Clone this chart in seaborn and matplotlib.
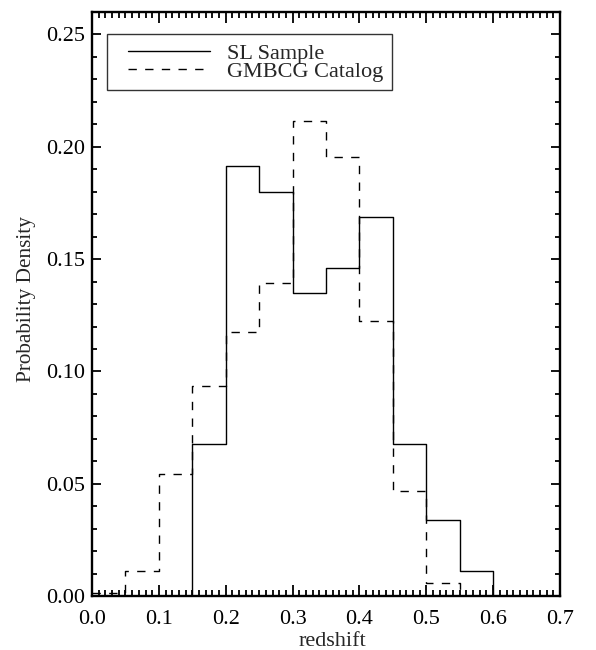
import numpy as np
import pandas as pd
import seaborn as sns
import matplotlib.pyplot as plt
from matplotlib.ticker import MultipleLocator
from matplotlib.lines import Line2D
from matplotlib.legend_handler import HandlerLine2D

# Histogram bins (redshift) and normalised heights
bin_edges = [0.00, 0.05, 0.10, 0.15, 0.20, 0.25, 0.30, 0.35, 0.40, 0.45, 0.50, 0.55, 0.60, 0.65]
sl_density = [0.0, 0.0, 0.0, 0.0676, 0.1913, 0.1800, 0.1349, 0.1462, 0.1687, 0.0676, 0.0338, 0.0113, 0.0]
gmbcg_density = [0.0012, 0.0110, 0.0544, 0.0933, 0.1177, 0.1395, 0.2113, 0.1953, 0.1226, 0.0467, 0.0060, 0.0, 0.0]
series_labels = ["SL Sample", "GMBCG Catalog"]

centers = [(a + b) / 2 for a, b in zip(bin_edges[:-1], bin_edges[1:])]
df = pd.DataFrame({
    "redshift": centers * 2,
    "density": sl_density + gmbcg_density,
    "sample": [series_labels[0]] * len(centers) + [series_labels[1]] * len(centers),
})

sns.set_theme(style="ticks")
plt.rcParams['font.family'] = ['Liberation Serif', 'DejaVu Serif']

fs = 16
fig = plt.figure(figsize=(5.96, 6.5), dpi=100)
ax = fig.add_axes([0.1544, 0.083, 0.7852, 0.8985])

styles = {series_labels[0]: "-", series_labels[1]: (0, (6, 6))}
for name in series_labels:
    sub = df[df["sample"] == name]
    sns.histplot(data=sub, x="redshift", weights="density", bins=bin_edges,
                 element="step", fill=False, stat="count", color="black",
                 linewidth=1.0, linestyle=styles[name], ax=ax)

# legend
handles = [Line2D([], [], color="black", lw=1.0, linestyle=styles[n]) for n in series_labels]
leg = ax.legend(handles=handles, labels=series_labels, loc="upper left",
                bbox_to_anchor=(0.032, 0.962), borderaxespad=0, fontsize=fs,
                frameon=True, fancybox=False, edgecolor="black",
                handlelength=4.25, handletextpad=0.75, borderpad=0.4,
                labelspacing=-0.12,
                handler_map={Line2D: HandlerLine2D(xpad=0.55)})
leg.get_frame().set_linewidth(1.0)

ax.set_xlim(0, 0.7)
ax.set_ylim(0, 0.26)
ax.xaxis.set_major_locator(MultipleLocator(0.1))
ax.xaxis.set_minor_locator(MultipleLocator(0.01))
ax.yaxis.set_major_locator(MultipleLocator(0.05))
ax.yaxis.set_minor_locator(MultipleLocator(0.01))
ax.xaxis.set_major_formatter(plt.FormatStrFormatter("%.1f"))
ax.yaxis.set_major_formatter(plt.FormatStrFormatter("%.2f"))

ax.tick_params(which="both", direction="in", top=True, right=True, colors="black",
               labelsize=fs, width=1.3)
ax.tick_params(axis="x", which="major", length=8, pad=10)
ax.tick_params(axis="x", which="minor", length=4)
ax.tick_params(axis="y", which="major", length=6.5, pad=5)
ax.tick_params(axis="y", which="minor", length=3.5)
for s in ax.spines.values():
    s.set_linewidth(1.7)
    s.set_color("black")

ax.set_xlabel("redshift", fontsize=16)
ax.set_ylabel("Probability Density", fontsize=15.3)
ax.xaxis.set_label_coords(0.513, -0.061)
ax.yaxis.set_label_coords(-0.119, 0.508)

fig.savefig("out.png", dpi=100, facecolor="white")
